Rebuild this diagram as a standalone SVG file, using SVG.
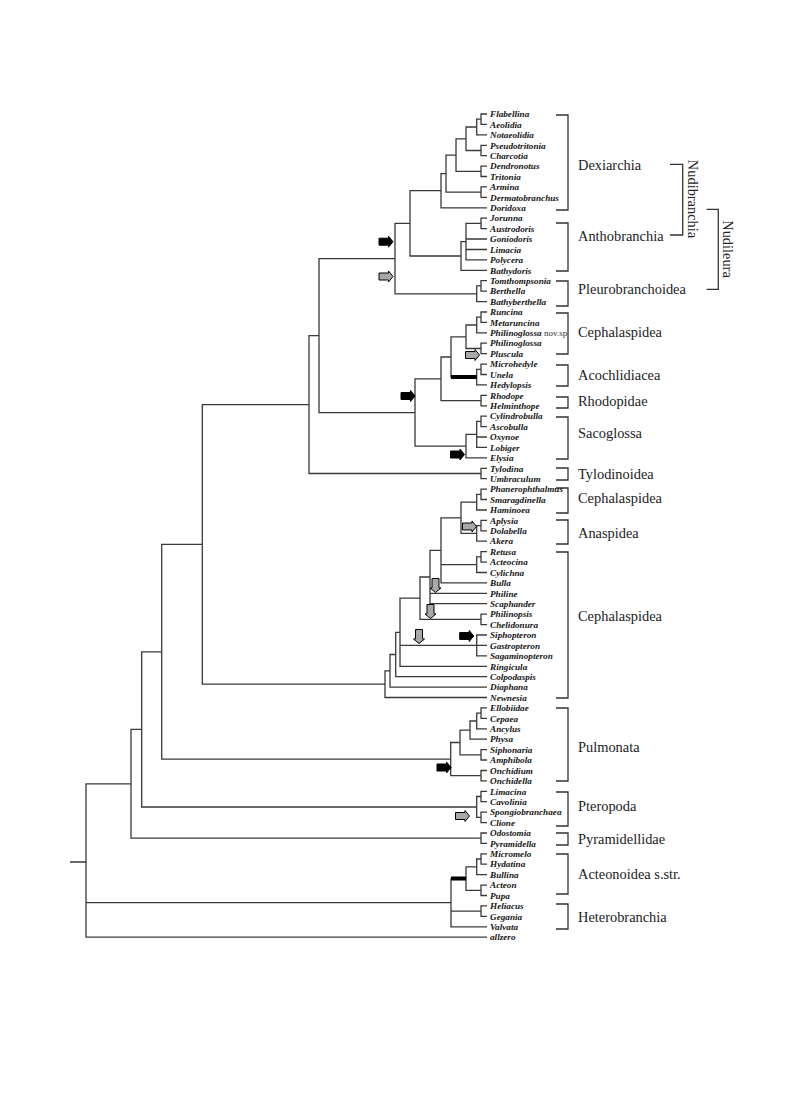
<svg xmlns="http://www.w3.org/2000/svg" xmlns:xlink="http://www.w3.org/1999/xlink" width="785" height="1110" viewBox="0 0 785 1110">
<style>
.t{font-family:"Liberation Serif",serif;font-weight:bold;font-style:italic;font-size:9.2px;fill:#151515}
.g{font-family:"Liberation Serif",serif;font-size:14.4px;fill:#222}
.s{font-family:"Liberation Serif",serif;font-size:9px;fill:#333}
.ln{stroke:#3a3a3a;stroke-width:1.3;fill:none}
.br{stroke:#333;stroke-width:1.3;fill:none}
.bar{stroke:#000;stroke-width:4;fill:none}
.ab{fill:#000;stroke:#000;stroke-width:1}
.ag{fill:#a8a8a8;stroke:#000;stroke-width:1}
</style>
<defs>
<path id="ar" d="M-7,-3.5 H2.5 V-5.5 L7,0 L2.5,5.5 V3.5 H-7 Z"/>
</defs>
<rect width="785" height="1110" fill="#fff"/>
<g id="connectors" class="ln">
<path d="M487,114 H481 V124.4 H487 M481,119.2 H476.7 V134.8 H487 M487,145.3 H481 V155.7 H487 M476.7,127 H466 V150.5 H481 M487,166.1 H481 V176.5 H487 M466,138.8 H456 V171.3 H481 M487,186.9 H481 V197.4 H487 M456,155.1 H446 V192.2 H481 M446,173.6 H441 V207.8 H487"/>
<path d="M487,218.2 H481 V228.6 H487 M481,223.4 H466 V259.9 H487 M466,239 H487 M466,249.5 H487 M466,241.7 H461 V270.3 H487 M441,190.7 H410 V256 H461"/>
<path d="M487,280.7 H481 V291.1 H487 M481,285.9 H476.7 V301.6 H487 M410,223.4 H395 V293.8 H476.7 M395,258.6 H319 V412.7 H415"/>
<path d="M487,312 H481 V322.4 H487 M481,317.2 H476.7 V332.8 H487 M487,343.2 H481 V353.7 H487 M476.7,325 H466 V348.5 H481 M487,364.1 H481 V374.5 H487 M481,369.3 H476.7 V384.9 H487 M466,336.8 H451 V377.1 H476.7 M487,395.3 H481 V405.8 H487 M451,357 H441 V400.6 H481"/>
<path d="M487,416.2 H481 V426.6 H487 M481,421.4 H476.7 V447.4 H487 M476.7,437 H487 M476.7,434.4 H466 V457.9 H487 M441,378.8 H415 V446.2 H466"/>
<path d="M487,468.3 H481 V478.7 H487 M319,335.7 H309 V473.5 H481"/>
<path d="M487,489.1 H481 V499.5 H487 M481,494.3 H476.7 V510 H487 M487,520.4 H481 V530.8 H487 M481,525.6 H476.7 V541.2 H487 M476.7,502.2 H461 V533.4 H476.7 M487,551.6 H481 V562.1 H487 M481,556.9 H476.7 V572.5 H487"/>
<path d="M461,517.8 H441 V582.9 H487 M441,564.7 H476.7 M441,550.4 H430 V603.7 H487 M430,593.3 H487 M487,614.2 H481 V624.6 H487 M430,577 H420 V619.4 H481 M487,635 H476.7 V655.8 H487 M476.7,645.4 H487 M420,598.2 H400 V666.3 H487 M400,645.4 H476.7 M400,632.3 H395.7 V676.7 H487 M395.7,654.5 H390 V687.1 H487 M390,670.8 H385 V697.5 H487"/>
<path d="M487,707.9 H481 V718.4 H487 M481,713.2 H476.7 V728.8 H487 M476.7,721 H470 V739.2 H487 M487,749.6 H481 V760 H487 M470,730.1 H460 V754.8 H481 M487,770.5 H481 V780.9 H487 M460,742.5 H450.7 V775.7 H481"/>
<path d="M487,791.3 H481 V801.7 H487 M487,812.1 H481 V822.6 H487 M481,796.5 H476.7 V817.4 H481 M487,833 H481 V843.4 H487"/>
<path d="M487,853.8 H481 V864.2 H487 M481,859 H476.7 V874.7 H487 M487,885.1 H481 V895.5 H487 M476.7,866.9 H466 V890.3 H481 M487,905.9 H481 V916.3 H487 M466,878.6 H451 V926.8 H487 M451,911.1 H481"/>
<path d="M309,404.6 H202.3 V684.2 H385 M202.3,544.4 H161.7 V759.1 H450.7 M161.7,651.8 H141.7 V807 H476.7 M141.7,729.4 H131 V838.2 H481 M131,783.8 H86 V937.2 H487 M86,902.7 H451 M70,862 H86"/>
<path class="bar" d="M451,377.1 H476.7 M451,878.6 H466"/>
</g>
<g id="arrows">
<use xlink:href="#ar" class="ab" transform="translate(386,241.7)"/>
<use xlink:href="#ar" class="ag" transform="translate(386,276.5)"/>
<use xlink:href="#ar" class="ab" transform="translate(408,396)"/>
<use xlink:href="#ar" class="ag" transform="translate(472.5,355)"/>
<use xlink:href="#ar" class="ab" transform="translate(457.5,454.5)"/>
<use xlink:href="#ar" class="ag" transform="translate(469.5,526.5)"/>
<use xlink:href="#ar" class="ag" transform="translate(435.5,585.5) rotate(90)"/>
<use xlink:href="#ar" class="ag" transform="translate(430.5,611.5) rotate(90)"/>
<use xlink:href="#ar" class="ag" transform="translate(419,636.5) rotate(90)"/>
<use xlink:href="#ar" class="ab" transform="translate(466.7,636)"/>
<use xlink:href="#ar" class="ab" transform="translate(444,767.5)"/>
<use xlink:href="#ar" class="ag" transform="translate(462.5,816)"/>
</g>
<g id="brackets" class="br">
<path d="M556,115 H568 V210 H556 M556,223 H568 V271 H556 M556,281 H568 V306 H556 M556,313 H568 V354 H556 M556,365 H568 V386 H556 M556,397 H568 V408 H556 M556,417 H568 V459 H556 M556,468 H568 V480 H556 M556,488 H568 V513 H556 M556,520 H568 V544 H556 M556,552 H568 V698 H556 M556,708 H568 V781 H556 M556,792 H568 V826 H556 M556,833 H568 V845 H556 M556,854 H568 V894 H556 M556,904 H568 V929 H556"/>
<path d="M670,164.3 H682.7 V235 H670 M706.7,209.3 H718.3 V289.3 H706.7"/>
</g>
<g id="n-Flabellina"><text class="t" x="490" y="117.2">Flabellina</text></g>
<g id="n-Aeolidia"><text class="t" x="490" y="127.6">Aeolidia</text></g>
<g id="n-Notaeolidia"><text class="t" x="490" y="138">Notaeolidia</text></g>
<g id="n-Pseudotritonia"><text class="t" x="490" y="148.5">Pseudotritonia</text></g>
<g id="n-Charcotia"><text class="t" x="490" y="158.9">Charcotia</text></g>
<g id="n-Dendronotus"><text class="t" x="490" y="169.3">Dendronotus</text></g>
<g id="n-Tritonia"><text class="t" x="490" y="179.7">Tritonia</text></g>
<g id="n-Armina"><text class="t" x="490" y="190.1">Armina</text></g>
<g id="n-Dermatobranchus"><text class="t" x="490" y="200.6">Dermatobranchus</text></g>
<g id="n-Doridoxa"><text class="t" x="490" y="211">Doridoxa</text></g>
<g id="n-Jorunna"><text class="t" x="490" y="221.4">Jorunna</text></g>
<g id="n-Austrodoris"><text class="t" x="490" y="231.8">Austrodoris</text></g>
<g id="n-Goniodoris"><text class="t" x="490" y="242.2">Goniodoris</text></g>
<g id="n-Limacia"><text class="t" x="490" y="252.7">Limacia</text></g>
<g id="n-Polycera"><text class="t" x="490" y="263.1">Polycera</text></g>
<g id="n-Bathydoris"><text class="t" x="490" y="273.5">Bathydoris</text></g>
<g id="n-Tomthompsonia"><text class="t" x="490" y="283.9">Tomthompsonia</text></g>
<g id="n-Berthella"><text class="t" x="490" y="294.3">Berthella</text></g>
<g id="n-Bathyberthella"><text class="t" x="490" y="304.8">Bathyberthella</text></g>
<g id="n-Runcina"><text class="t" x="490" y="315.2">Runcina</text></g>
<g id="n-Metaruncina"><text class="t" x="490" y="325.6">Metaruncina</text></g>
<g id="n-Philinoglossa-nov"><text class="t" x="490" y="336">Philinoglossa</text><text class="s" x="544" y="336">nov.sp</text></g>
<g id="n-Philinoglossa"><text class="t" x="490" y="346.4">Philinoglossa</text></g>
<g id="n-Pluscula"><text class="t" x="490" y="356.9">Pluscula</text></g>
<g id="n-Microhedyle"><text class="t" x="490" y="367.3">Microhedyle</text></g>
<g id="n-Unela"><text class="t" x="490" y="377.7">Unela</text></g>
<g id="n-Hedylopsis"><text class="t" x="490" y="388.1">Hedylopsis</text></g>
<g id="n-Rhodope"><text class="t" x="490" y="398.5">Rhodope</text></g>
<g id="n-Helminthope"><text class="t" x="490" y="409">Helminthope</text></g>
<g id="n-Cylindrobulla"><text class="t" x="490" y="419.4">Cylindrobulla</text></g>
<g id="n-Ascobulla"><text class="t" x="490" y="429.8">Ascobulla</text></g>
<g id="n-Oxynoe"><text class="t" x="490" y="440.2">Oxynoe</text></g>
<g id="n-Lobiger"><text class="t" x="490" y="450.6">Lobiger</text></g>
<g id="n-Elysia"><text class="t" x="490" y="461.1">Elysia</text></g>
<g id="n-Tylodina"><text class="t" x="490" y="471.5">Tylodina</text></g>
<g id="n-Umbraculum"><text class="t" x="490" y="481.9">Umbraculum</text></g>
<g id="n-Phanerophthalmus"><text class="t" x="490" y="492.3">Phanerophthalmus</text></g>
<g id="n-Smaragdinella"><text class="t" x="490" y="502.7">Smaragdinella</text></g>
<g id="n-Haminoea"><text class="t" x="490" y="513.2">Haminoea</text></g>
<g id="n-Aplysia"><text class="t" x="490" y="523.6">Aplysia</text></g>
<g id="n-Dolabella"><text class="t" x="490" y="534">Dolabella</text></g>
<g id="n-Akera"><text class="t" x="490" y="544.4">Akera</text></g>
<g id="n-Retusa"><text class="t" x="490" y="554.8">Retusa</text></g>
<g id="n-Acteocina"><text class="t" x="490" y="565.3">Acteocina</text></g>
<g id="n-Cylichna"><text class="t" x="490" y="575.7">Cylichna</text></g>
<g id="n-Bulla"><text class="t" x="490" y="586.1">Bulla</text></g>
<g id="n-Philine"><text class="t" x="490" y="596.5">Philine</text></g>
<g id="n-Scaphander"><text class="t" x="490" y="606.9">Scaphander</text></g>
<g id="n-Philinopsis"><text class="t" x="490" y="617.4">Philinopsis</text></g>
<g id="n-Chelidonura"><text class="t" x="490" y="627.8">Chelidonura</text></g>
<g id="n-Siphopteron"><text class="t" x="490" y="638.2">Siphopteron</text></g>
<g id="n-Gastropteron"><text class="t" x="490" y="648.6">Gastropteron</text></g>
<g id="n-Sagaminopteron"><text class="t" x="490" y="659">Sagaminopteron</text></g>
<g id="n-Ringicula"><text class="t" x="490" y="669.5">Ringicula</text></g>
<g id="n-Colpodaspis"><text class="t" x="490" y="679.9">Colpodaspis</text></g>
<g id="n-Diaphana"><text class="t" x="490" y="690.3">Diaphana</text></g>
<g id="n-Newnesia"><text class="t" x="490" y="700.7">Newnesia</text></g>
<g id="n-Ellobiidae"><text class="t" x="490" y="711.1">Ellobiidae</text></g>
<g id="n-Cepaea"><text class="t" x="490" y="721.6">Cepaea</text></g>
<g id="n-Ancylus"><text class="t" x="490" y="732">Ancylus</text></g>
<g id="n-Physa"><text class="t" x="490" y="742.4">Physa</text></g>
<g id="n-Siphonaria"><text class="t" x="490" y="752.8">Siphonaria</text></g>
<g id="n-Amphibola"><text class="t" x="490" y="763.2">Amphibola</text></g>
<g id="n-Onchidium"><text class="t" x="490" y="773.7">Onchidium</text></g>
<g id="n-Onchidella"><text class="t" x="490" y="784.1">Onchidella</text></g>
<g id="n-Limacina"><text class="t" x="490" y="794.5">Limacina</text></g>
<g id="n-Cavolinia"><text class="t" x="490" y="804.9">Cavolinia</text></g>
<g id="n-Spongiobranchaea"><text class="t" x="490" y="815.3">Spongiobranchaea</text></g>
<g id="n-Clione"><text class="t" x="490" y="825.8">Clione</text></g>
<g id="n-Odostomia"><text class="t" x="490" y="836.2">Odostomia</text></g>
<g id="n-Pyramidella"><text class="t" x="490" y="846.6">Pyramidella</text></g>
<g id="n-Micromelo"><text class="t" x="490" y="857">Micromelo</text></g>
<g id="n-Hydatina"><text class="t" x="490" y="867.4">Hydatina</text></g>
<g id="n-Bullina"><text class="t" x="490" y="877.9">Bullina</text></g>
<g id="n-Acteon"><text class="t" x="490" y="888.3">Acteon</text></g>
<g id="n-Pupa"><text class="t" x="490" y="898.7">Pupa</text></g>
<g id="n-Heliacus"><text class="t" x="490" y="909.1">Heliacus</text></g>
<g id="n-Gegania"><text class="t" x="490" y="919.5">Gegania</text></g>
<g id="n-Valvata"><text class="t" x="490" y="930">Valvata</text></g>
<g id="n-allzero"><text class="t" x="490" y="940.4">allzero</text></g>
<g id="l-Dexiarchia"><text class="g" x="578" y="169.5">Dexiarchia</text></g>
<g id="l-Anthobranchia"><text class="g" x="578" y="240.5">Anthobranchia</text></g>
<g id="l-Pleurobranchoidea"><text class="g" x="578" y="294">Pleurobranchoidea</text></g>
<g id="l-Cephalaspidea1"><text class="g" x="578" y="337">Cephalaspidea</text></g>
<g id="l-Acochlidiacea"><text class="g" x="578" y="379.5">Acochlidiacea</text></g>
<g id="l-Rhodopidae"><text class="g" x="578" y="405.5">Rhodopidae</text></g>
<g id="l-Sacoglossa"><text class="g" x="578" y="438">Sacoglossa</text></g>
<g id="l-Tylodinoidea"><text class="g" x="578" y="478.5">Tylodinoidea</text></g>
<g id="l-Cephalaspidea2"><text class="g" x="578" y="503">Cephalaspidea</text></g>
<g id="l-Anaspidea"><text class="g" x="578" y="538">Anaspidea</text></g>
<g id="l-Cephalaspidea3"><text class="g" x="578" y="621">Cephalaspidea</text></g>
<g id="l-Pulmonata"><text class="g" x="578" y="752">Pulmonata</text></g>
<g id="l-Pteropoda"><text class="g" x="578" y="811">Pteropoda</text></g>
<g id="l-Pyramidellidae"><text class="g" x="578" y="843.5">Pyramidellidae</text></g>
<g id="l-Acteonoidea"><text class="g" x="578" y="879">Acteonoidea s.str.</text></g>
<g id="l-Heterobranchia"><text class="g" x="578" y="922">Heterobranchia</text></g>
<g id="l-Nudibranchia"><text class="g" text-anchor="middle" transform="translate(687.5,199) rotate(90)">Nudibranchia</text></g>
<g id="l-Nudileura"><text class="g" text-anchor="middle" transform="translate(723,249) rotate(90)">Nudileura</text></g>
</svg>
